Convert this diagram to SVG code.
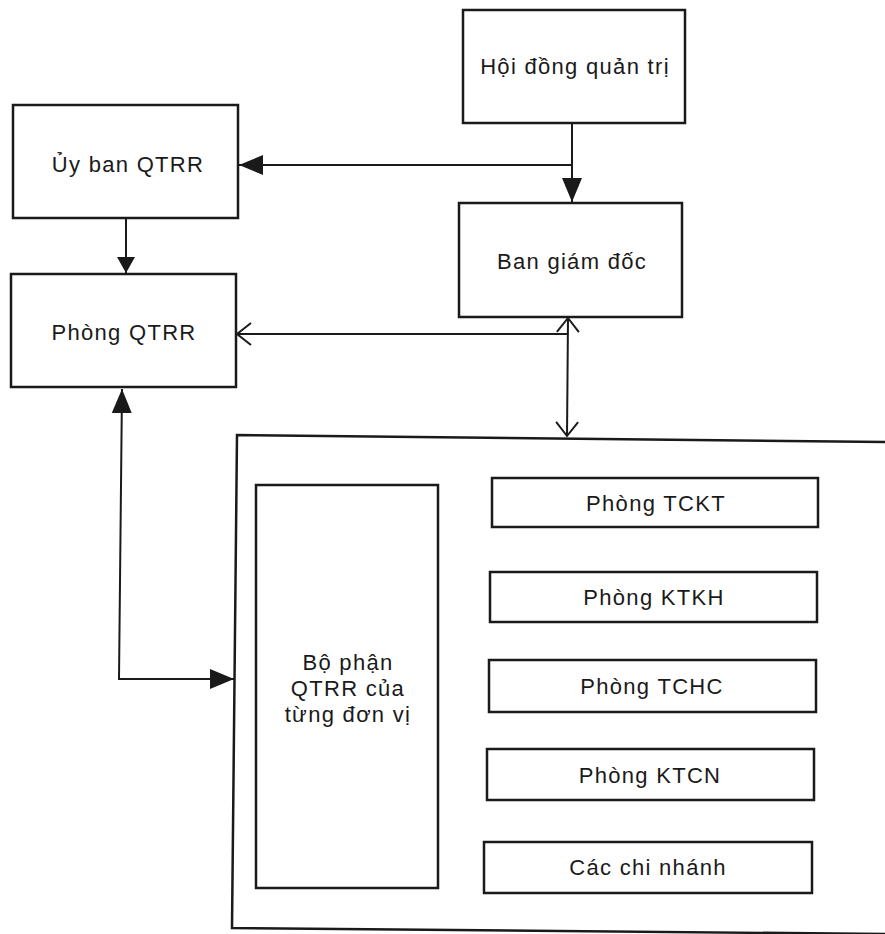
<svg xmlns="http://www.w3.org/2000/svg" width="885" height="934" viewBox="0 0 885 934">
  <style>
    .box { fill: #ffffff; stroke: #1a1a1a; stroke-width: 2.5; }
    .lbl { font-family: "Liberation Sans", Arial, sans-serif; font-size: 22px; fill: #1a1a1a; text-anchor: middle; letter-spacing: 1.3px; }
    .conn { fill: none; stroke: #1a1a1a; stroke-width: 2; }
  </style>
  <defs>
    <marker id="fill" markerUnits="userSpaceOnUse" markerWidth="26" markerHeight="22" refX="24" refY="10" orient="auto-start-reverse" viewBox="0 0 26 20">
      <path d="M0,0 L24,10 L0,20 Z" fill="#1a1a1a"/>
    </marker>
    <marker id="fillS" markerUnits="userSpaceOnUse" markerWidth="18" markerHeight="20" refX="16" refY="9" orient="auto-start-reverse" viewBox="0 0 18 18">
      <path d="M0,0 L16,9 L0,18 Z" fill="#1a1a1a"/>
    </marker>
    <marker id="open" markerUnits="userSpaceOnUse" markerWidth="18" markerHeight="28" refX="15" refY="12" orient="auto-start-reverse" viewBox="0 0 18 24">
      <path d="M1,1 L15,12 L1,23" fill="none" stroke="#1a1a1a" stroke-width="2"/>
    </marker>
  </defs>

  <rect width="885" height="934" fill="#ffffff"/>

  <g id="connectors">
    <path class="conn" d="M572,123 L572,202" marker-end="url(#fill)"/>
    <path class="conn" d="M572,165 L239,165" marker-end="url(#fill)"/>
    <path class="conn" d="M126,218 L126,273" marker-end="url(#fillS)"/>
    <path class="conn" d="M568,318 L567,436" marker-start="url(#open)" marker-end="url(#open)"/>
    <path class="conn" d="M568,334 L237,334" marker-end="url(#open)"/>
    <path class="conn" d="M122,389 L119,679 L234,679" marker-start="url(#fill)" marker-end="url(#fill)"/>
  </g>

  <g id="container">
    <path d="M885,442 L237,435 L232,928 L885,934" fill="none" stroke="#1a1a1a" stroke-width="2.5"/>
  </g>

  <g id="hoi-dong-quan-tri">
    <rect class="box" x="463" y="10" width="222" height="113"/>
    <text class="lbl" x="575" y="74">Hội đồng quản trị</text>
  </g>
  <g id="uy-ban-qtrr">
    <rect class="box" x="13" y="105" width="225" height="113"/>
    <text class="lbl" x="128" y="172">Ủy ban QTRR</text>
  </g>
  <g id="ban-giam-doc">
    <rect class="box" x="459" y="203" width="223" height="114"/>
    <text class="lbl" x="572" y="269">Ban giám đốc</text>
  </g>
  <g id="phong-qtrr">
    <rect class="box" x="11" y="274" width="225" height="113"/>
    <text class="lbl" x="124" y="340">Phòng QTRR</text>
  </g>
  <g id="bo-phan-qtrr">
    <rect class="box" x="256" y="485" width="182" height="403"/>
    <text class="lbl" x="348" y="670">Bộ phận</text>
    <text class="lbl" x="348" y="696">QTRR của</text>
    <text class="lbl" x="348" y="722">từng đơn vị</text>
  </g>
  <g id="phong-tckt">
    <rect class="box" x="492" y="478" width="326" height="49"/>
    <text class="lbl" x="656" y="511">Phòng TCKT</text>
  </g>
  <g id="phong-ktkh">
    <rect class="box" x="490" y="572" width="327" height="50"/>
    <text class="lbl" x="654" y="605">Phòng KTKH</text>
  </g>
  <g id="phong-tchc">
    <rect class="box" x="489" y="660" width="327" height="52"/>
    <text class="lbl" x="652" y="694">Phòng TCHC</text>
  </g>
  <g id="phong-ktcn">
    <rect class="box" x="487" y="749" width="327" height="51"/>
    <text class="lbl" x="650" y="783">Phòng KTCN</text>
  </g>
  <g id="cac-chi-nhanh">
    <rect class="box" x="484" y="842" width="328" height="51"/>
    <text class="lbl" x="648" y="875">Các chi nhánh</text>
  </g>
</svg>
